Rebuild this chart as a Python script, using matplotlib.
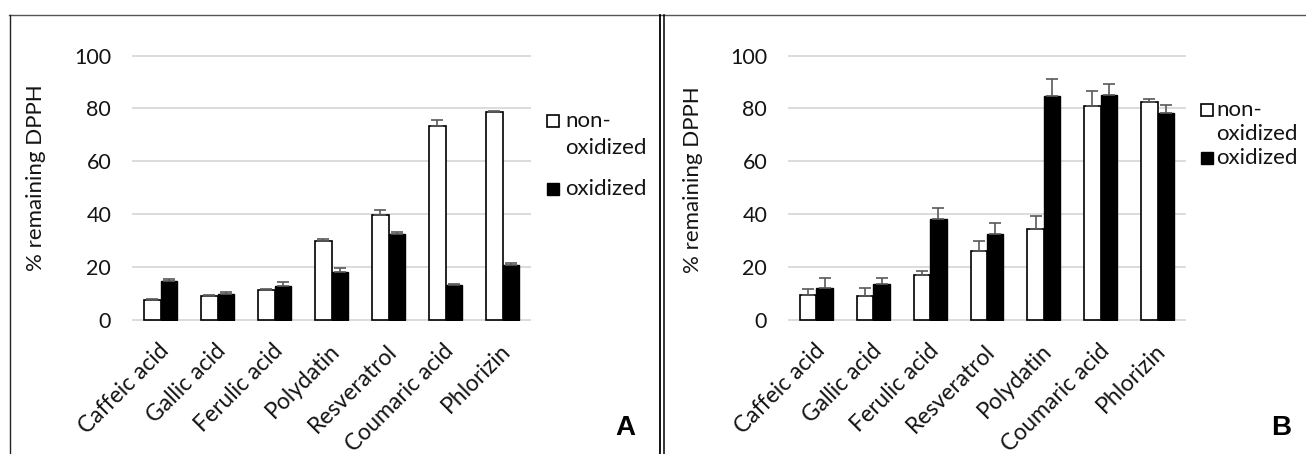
import matplotlib
matplotlib.use("Agg")
import matplotlib.pyplot as plt
from matplotlib.lines import Line2D
from matplotlib.patches import Rectangle
from matplotlib.transforms import ScaledTranslation
import numpy as np

plt.rcParams['font.family'] = ['Lato', 'DejaVu Sans']

# ---------------- data ----------------
cats_A = ["Caffeic acid", "Gallic acid", "Ferulic acid", "Polydatin",
          "Resveratrol", "Coumaric acid", "Phlorizin"]
nonox_A = [7.5, 9.0, 11.2, 30.0, 39.8, 73.3, 78.6]
nonox_A_err = [0.6, 0.3, 0.6, 0.8, 1.8, 2.2, 0.6]
ox_A = [14.6, 10.0, 13.0, 18.0, 32.6, 13.4, 20.8]
ox_A_err = [0.9, 0.5, 1.2, 1.8, 0.8, 0.3, 0.7]

cats_B = ["Caffeic acid", "Gallic acid", "Ferulic acid", "Resveratrol",
          "Polydatin", "Coumaric acid", "Phlorizin"]
nonox_B = [9.5, 9.0, 17.0, 26.0, 34.3, 81.0, 82.3]
nonox_B_err = [2.2, 3.0, 1.6, 3.9, 4.9, 5.5, 1.3]
ox_B = [12.0, 13.5, 38.0, 32.5, 84.8, 85.0, 78.2]
ox_B_err = [3.9, 2.5, 4.2, 4.3, 6.2, 4.4, 3.1]

yticks = [0, 20, 40, 60, 80, 100]
ylabel = "% remaining DPPH"
series_labels = ["non-\noxidized", "oxidized"]
panel_letters = ["A", "B"]

# ---------------- figure ----------------
W, H = 1306, 454
fig = plt.figure(figsize=(W / 100, H / 100), dpi=100)
TXT = '#141414'

def px_axes(x0, x1, y_top, y_bot):
    return fig.add_axes([x0 / W, 1 - y_bot / H, (x1 - x0) / W, (y_bot - y_top) / H])

ymin, ymax = -0.5, 100.5
ppu = (320 - 55.5) / 100.0
def ypx(v):
    return 320 - v * ppu

axA = px_axes(132, 531, ypx(ymax), ypx(ymin))
axB = px_axes(788, 1186, ypx(ymax), ypx(ymin))

bw = 0.29
err_color = '#595959'

def draw(ax, cats, nonox, nonox_err, ox, ox_err):
    x = np.arange(len(cats))
    ax.bar(x - bw / 2, nonox, width=bw, color='white', edgecolor='black',
           linewidth=1.2, zorder=3)
    ax.bar(x + bw / 2, ox, width=bw, color='black', edgecolor='black',
           linewidth=1.0, zorder=3)
    ax.errorbar(x - bw / 2, nonox, yerr=[np.zeros(len(x)), nonox_err], fmt='none',
                ecolor=err_color, elinewidth=1.2, capsize=4.3, capthick=1.2, zorder=4)
    ax.errorbar(x + bw / 2, ox, yerr=[np.zeros(len(x)), ox_err], fmt='none',
                ecolor=err_color, elinewidth=1.2, capsize=4.3, capthick=1.2, zorder=4)
    ax.set_xlim(-0.5, len(cats) - 0.5)
    ax.set_ylim(ymin, ymax)
    ax.set_yticks(yticks)
    ax.set_yticklabels([str(t) for t in yticks], fontsize=15.5, color=TXT)
    ax.yaxis.grid(True, color='#d9d9d9', linewidth=1.3, zorder=0)
    ax.set_axisbelow(True)
    for s in ax.spines.values():
        s.set_visible(False)
    ax.tick_params(axis='y', length=0, pad=15)
    ax.tick_params(axis='x', length=0, pad=19)
    ax.set_xticks(x)
    labels = ax.set_xticklabels(cats, fontsize=16.5, rotation=45, ha='right',
                                va='center', rotation_mode='anchor', color=TXT)
    off = ScaledTranslation(5 / 100, 0, fig.dpi_scale_trans)
    for lab in labels:
        lab.set_transform(lab.get_transform() + off)

draw(axA, cats_A, nonox_A, nonox_A_err, ox_A, ox_A_err)
draw(axB, cats_B, nonox_B, nonox_B_err, ox_B, ox_B_err)

# y labels
fig.text(36 / W, 1 - 178 / H, ylabel, rotation=90, ha='center', va='center',
         fontsize=16, color=TXT)
fig.text(693 / W, 1 - 180 / H, ylabel, rotation=90, ha='center', va='center',
         fontsize=16, color=TXT)

# legends (manual, Excel-like)
def legend(sq_x, text_x, y_non, y_ox2, y_ox):
    s = 12
    fig.add_artist(Rectangle((sq_x / W, 1 - (y_non + s / 2) / H), s / W, s / H,
                             facecolor='white', edgecolor='black', linewidth=1.2,
                             transform=fig.transFigure))
    fig.text(text_x / W, 1 - y_non / H, series_labels[0].split("\n")[0],
             ha='left', va='center', fontsize=16, color=TXT)
    fig.text(text_x / W, 1 - y_ox2 / H, series_labels[0].split("\n")[1],
             ha='left', va='center', fontsize=16, color=TXT)
    fig.add_artist(Rectangle((sq_x / W, 1 - (y_ox + s / 2) / H), s / W, s / H,
                             facecolor='black', edgecolor='black', linewidth=1.0,
                             transform=fig.transFigure))
    fig.text(text_x / W, 1 - y_ox / H, series_labels[1],
             ha='left', va='center', fontsize=16, color=TXT)

legend(547, 565, 121, 148, 189)
legend(1201, 1216, 110, 134, 158)

# panel letters
fig.text(625 / W, 1 - 428 / H, panel_letters[0], ha='center', va='center',
         fontsize=20, fontweight='bold', family='Liberation Sans')
fig.text(1281 / W, 1 - 428 / H, panel_letters[1], ha='center', va='center',
         fontsize=20, fontweight='bold', family='Liberation Sans')

# frame lines
def vline(xp, y0, y1, color, lw):
    fig.add_artist(Line2D([xp / W, xp / W], [1 - y0 / H, 1 - y1 / H], color=color,
                          linewidth=lw, transform=fig.transFigure))

fig.add_artist(Line2D([9 / W, 1.0], [1 - 15 / H, 1 - 15 / H], color='#555555',
                      linewidth=1.0, transform=fig.transFigure))
vline(9.5, 15, H, '#222222', 1.0)
vline(660.5, 15, H, 'black', 1.3)
vline(664.3, 15, H, 'black', 1.1)

fig.savefig("out.png", dpi=100)
